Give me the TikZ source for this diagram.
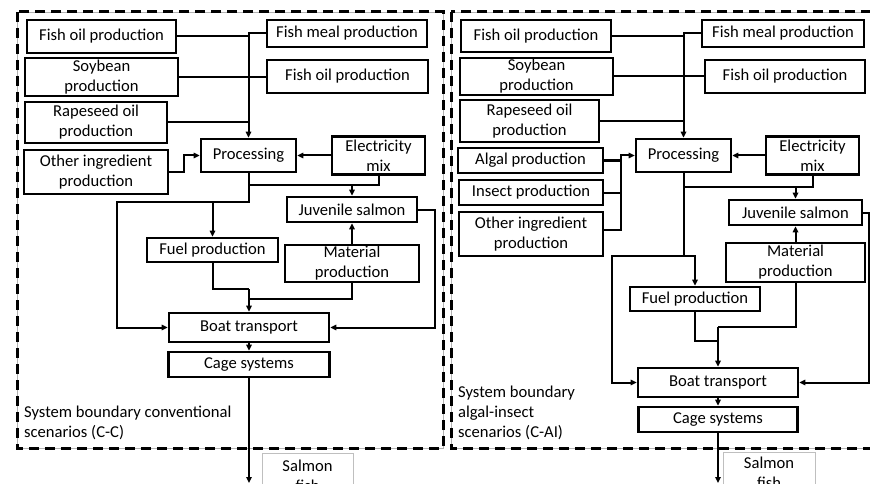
\documentclass[tikz,border=0pt]{standalone}
\usepackage{fontspec}
\setmainfont{Carlito}
\usetikzlibrary{arrows.meta,calc}
\begin{document}
\begin{tikzpicture}[x=1pt,y=-1pt,
  box/.style={draw, line width=2.7pt, fill=white, inner sep=0pt, align=center, font=\fontsize{16.6}{20}\selectfont},
  conn/.style={line width=2pt},
  arr/.style={conn, -{Triangle[length=6pt,width=5.5pt]}},
  lbl/.style={inner sep=0pt, align=left, font=\fontsize{16.6}{20}\selectfont},
  sbox/.style={draw=black!25, line width=0.8pt, fill=white, inner sep=0pt, align=center, font=\fontsize{16.6}{20}\selectfont},
  boundthin/.style={draw=black!30, line width=0.6pt},
  bounddash/.style={draw=black, line width=3pt, dash pattern=on 10pt off 6pt}]
\useasboundingbox (0,0) rectangle (870,484);
\clip (0,0) rectangle (870,484);
\fill[white] (0,0) rectangle (870,484);
% system boundaries
\draw[boundthin] (17,12) rectangle (443,448);
\draw[bounddash] (17,12) rectangle (443,448);
\draw[boundthin] (451,12) rectangle (873,448);
\draw[bounddash] (451,12) rectangle (873,448);

% ---------- left panel ----------
\node[box, minimum width=149, minimum height=33] (lfo) at (101.5,36.5) {Fish oil production};
\node[box, minimum width=160, minimum height=27] (lfm) at (347,33.5) {Fish meal production};
\node[box, minimum width=153, minimum height=38] (lsoy) at (101.5,77) {Soybean\\production};
\node[box, minimum width=161, minimum height=33] (lfo2) at (347.5,76.5) {Fish oil production};
\node[box, minimum width=142, minimum height=41] (lrape) at (96,122.5) {Rapeseed oil\\production};
\node[box, minimum width=95, minimum height=33] (lproc) at (248.5,155.5) {Processing};
\node[box, minimum width=93, minimum height=38] (lelec) at (378.5,155.5) {Electricity\\mix};
\node[box, minimum width=144, minimum height=44] (loth) at (96,172) {Other ingredient\\production};
\node[box, minimum width=130, minimum height=25] (ljuv) at (352,209.5) {Juvenile salmon};
\node[box, minimum width=131, minimum height=24] (lfuel) at (212.5,250) {Fuel production};
\node[box, minimum width=134, minimum height=37] (lmat) at (352,263.5) {Material\\production};
\node[box, minimum width=160, minimum height=29] (lboat) at (249,327.5) {Boat transport};
\node[box, minimum width=161, minimum height=25] (lcage) at (249,364.5) {Cage systems};
\node[lbl, anchor=west] (lblL) at (24,423) {System boundary conventional\\scenarios (C-C)};
\node[sbox, minimum width=91, minimum height=44, anchor=north] (lsal) at (307.5,453) {Salmon\\fish};

\draw[arr] (lfm.west) -| (lproc.north);
\draw[conn] (lfo.east) -- (lfo.east -| lproc.north);
\draw[conn] (lsoy.east) -- (lsoy.east -| lfo2.west);
\draw[conn] (lrape.east) -- (lrape.east -| lproc.north);
\draw[arr] (loth.east) -- ++(15,0) |- (lproc.west);
\draw[arr] (lelec.west) -- (lproc.east);
\coordinate (lL) at (117,202);
\draw[arr] (lproc.south) |- (lL) |- (lboat.west);
\draw[arr] (lfuel.north |- lL) -- (lfuel.north);
\path (lelec.south) ++(0,9) coordinate (lE);
\draw[conn] (lelec.south) -- (lE) -- (lE -| lproc.south);
\draw[arr] (lE -| ljuv.north) -- (ljuv.north);
\draw[arr] (lmat.north) -- (ljuv.south);
\draw[arr] (ljuv.east) -- ++(17,0) |- (lboat.east);
\path (lfuel.south) ++(0,26) coordinate (lF);
\draw[conn] (lfuel.south) -- (lF) -- (lF -| lboat.north);
\path (lmat.south) ++(0,16) coordinate (lM);
\draw[conn] (lmat.south) -- (lM) -- (lM -| lboat.north);
\draw[arr] (lF -| lboat.north) -- (lboat.north);
\draw[arr] (lboat.south) -- (lcage.north);
\coordinate (lout) at (249,483);
\draw[arr] (lcage.south) -- (lout);

% ---------- right panel ----------
\node[box, minimum width=150, minimum height=32] (rfo) at (536,36) {Fish oil production};
\node[box, minimum width=162, minimum height=27] (rfm) at (783,33.5) {Fish meal production};
\node[box, minimum width=153, minimum height=37] (rsoy) at (536.5,76.5) {Soybean\\production};
\node[box, minimum width=160, minimum height=33] (rfo2) at (785,76.5) {Fish oil production};
\node[box, minimum width=139, minimum height=42] (rrape) at (529.5,121) {Rapeseed oil\\production};
\node[box, minimum width=95, minimum height=33] (rproc) at (683.5,155.5) {Processing};
\node[box, minimum width=93, minimum height=38] (relec) at (812.5,155.5) {Electricity\\mix};
\node[box, minimum width=145, minimum height=25] (ralg) at (530.5,160.5) {Algal production};
\node[box, minimum width=144, minimum height=25] (rins) at (531,192.5) {Insect production};
\node[box, minimum width=144, minimum height=44] (roth) at (531,234) {Other ingredient\\production};
\node[box, minimum width=133, minimum height=25] (rjuv) at (795.5,212.5) {Juvenile salmon};
\node[box, minimum width=139, minimum height=39] (rmat) at (795.5,262.5) {Material\\production};
\node[box, minimum width=130, minimum height=24] (rfuel) at (695,299) {Fuel production};
\node[box, minimum width=160, minimum height=29] (rboat) at (718,382.5) {Boat transport};
\node[box, minimum width=159, minimum height=25] (rcage) at (718,419.5) {Cage systems};
\node[lbl, anchor=west] (lblR) at (458,413) {System boundary\\algal-insect\\scenarios (C-AI)};
\node[sbox, minimum width=92, minimum height=40, anchor=north] (rsal) at (769,452) {Salmon\\fish};

\draw[arr] (rfm.west) -| (rproc.north);
\draw[conn] (rfo.east) -- (rfo.east -| rproc.north);
\draw[conn] (rsoy.east) -- (rsoy.east -| rfo2.west);
\draw[conn] (rrape.east) -- (rrape.east -| rproc.north);
\path (ralg.east) ++(17,0) coordinate (rA);
\draw[arr] ($(roth.east)+(0,-4)$) -| (rA) |- (rproc.west);
\draw[conn] (ralg.east) -- (rA);
\draw[conn] (rins.east) -- (rins.east -| rA);
\draw[arr] (relec.west) -- (rproc.east);
\coordinate (rL) at (612,256);
\draw[arr] (rproc.south) |- (rL) |- (rboat.west);
\draw[arr] (rL -| rproc.south) -- (rL -| rfuel.north) -- (rfuel.north);
\path (relec.south) ++(0,11) coordinate (rE);
\draw[conn] (relec.south) -- (rE) -- (rE -| rproc.south);
\draw[arr] (rE -| rjuv.north) -- (rjuv.north);
\draw[arr] (rmat.north) -- (rjuv.south);
\draw[arr] (rjuv.east) -- ++(6,0) |- (rboat.east);
\path (rfuel.south) ++(0,29) coordinate (rF);
\draw[conn] (rfuel.south) -- (rF) -- (rF -| rboat.north);
\path (rmat.south) ++(0,44) coordinate (rM);
\draw[conn] (rmat.south) -- (rM) -- (rM -| rboat.north);
\draw[arr] (rM -| rboat.north) -- (rboat.north);
\draw[arr] (rboat.south) -- (rcage.north);
\coordinate (rout) at (718,483);
\draw[arr] (rcage.south) -- (rout);
\end{tikzpicture}
\end{document}
